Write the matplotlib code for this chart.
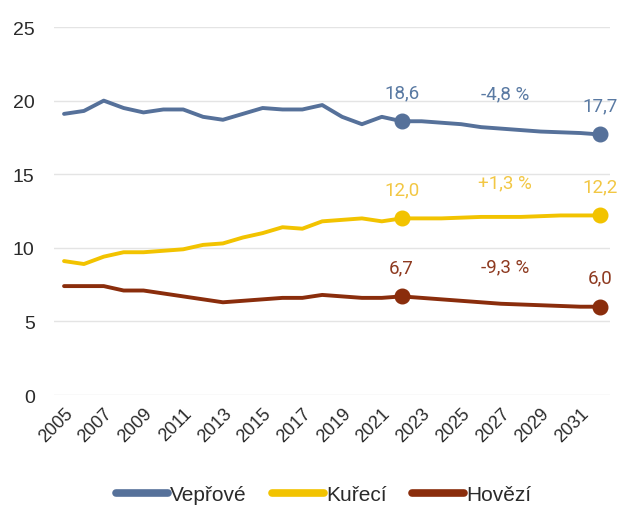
import matplotlib.pyplot as plt
import matplotlib.transforms as mtransforms

years = list(range(2005, 2033))
veprove = [19.1, 19.3, 20.0, 19.5, 19.2, 19.4, 19.4, 18.9, 18.7, 19.1, 19.5, 19.4, 19.4, 19.7,
           18.9, 18.4, 18.9, 18.6, 18.6, 18.5, 18.4, 18.2, 18.1, 18.0, 17.9, 17.85, 17.8, 17.7]
kureci = [9.1, 8.9, 9.4, 9.7, 9.7, 9.8, 9.9, 10.2, 10.3, 10.7, 11.0, 11.4, 11.3, 11.8,
          11.9, 12.0, 11.8, 12.0, 12.0, 12.0, 12.05, 12.1, 12.1, 12.1, 12.15, 12.2, 12.2, 12.2]
hovezi = [7.4, 7.4, 7.4, 7.1, 7.1, 6.9, 6.7, 6.5, 6.3, 6.4, 6.5, 6.6, 6.6, 6.8,
          6.7, 6.6, 6.6, 6.7, 6.6, 6.5, 6.4, 6.3, 6.2, 6.15, 6.1, 6.05, 6.0, 6.0]
change = ['-4,8 %', '+1,3 %', '-9,3 %']
tick_years = list(range(2005, 2032, 2))

series = [
    ('Vepřové', veprove, '#56719a', '#5a7aa3'),
    ('Kuřecí', kureci, '#f2c300', '#f2c744'),
    ('Hovězí', hovezi, '#8a2d0c', '#8e3a20'),
]

plt.rcParams['font.family'] = ['Liberation Sans', 'DejaVu Sans']

fig = plt.figure(figsize=(6.22, 5.10), dpi=100)
ax = fig.add_axes([0.087, 0.2235, 0.894, 0.7215])

i22 = years.index(2022)
for (name, vals, col, lcol), pct in zip(series, change):
    ax.plot(years, vals, color=col, lw=2.8, label=name, solid_capstyle='round')
    ax.plot([years[i22], years[-1]], [vals[i22], vals[-1]], 'o', color=col, ms=10.5)
    for i in (i22, len(years) - 1):
        ax.annotate(f'{vals[i]:.1f}'.replace('.', ','), (years[i], vals[i]),
                    xytext=(0, 21), textcoords='offset points', ha='center', va='center',
                    color=lcol, fontsize=13.5, family='Roboto')
    mid = (vals[i22] + vals[-1]) / 2
    ax.annotate(pct, ((years[i22] + years[-1]) / 2 + 0.2, mid), xytext=(0, 25),
                textcoords='offset points', ha='center', va='center',
                color=lcol, fontsize=13.5, family='Roboto')

ax.set_xlim(2004.5, 2032.5)
ax.set_ylim(0, 25)
ax.set_yticks([0, 5, 10, 15, 20, 25])
ax.set_xticks(tick_years)
ax.set_xticklabels([str(y) for y in tick_years], rotation=45, ha='right', va='top',
                   rotation_mode='anchor', fontsize=13, color='#2a2a2a')
shift = mtransforms.ScaledTranslation(5 / 72, 0, fig.dpi_scale_trans)
for lbl in ax.get_xticklabels():
    lbl.set_transform(lbl.get_transform() + shift)
ax.tick_params(axis='y', labelsize=14, colors='#2a2a2a', length=0, pad=14)
ax.tick_params(axis='x', length=0, pad=7)
ax.grid(axis='y', color='#e4e4e4', lw=1)
ax.set_axisbelow(True)
for s in ax.spines.values():
    s.set_visible(False)

leg = fig.legend(loc='center', bbox_to_anchor=(0.52, 14 / 510), ncol=3, frameon=False,
                 fontsize=15, handlelength=2.5, handletextpad=0.1, columnspacing=1.2)
for h in leg.get_lines():
    h.set_linewidth(5.5)
    h.set_solid_capstyle('round')
for t in leg.get_texts():
    t.set_color('#2a2a2a')

fig.savefig('out.png', dpi=100)
